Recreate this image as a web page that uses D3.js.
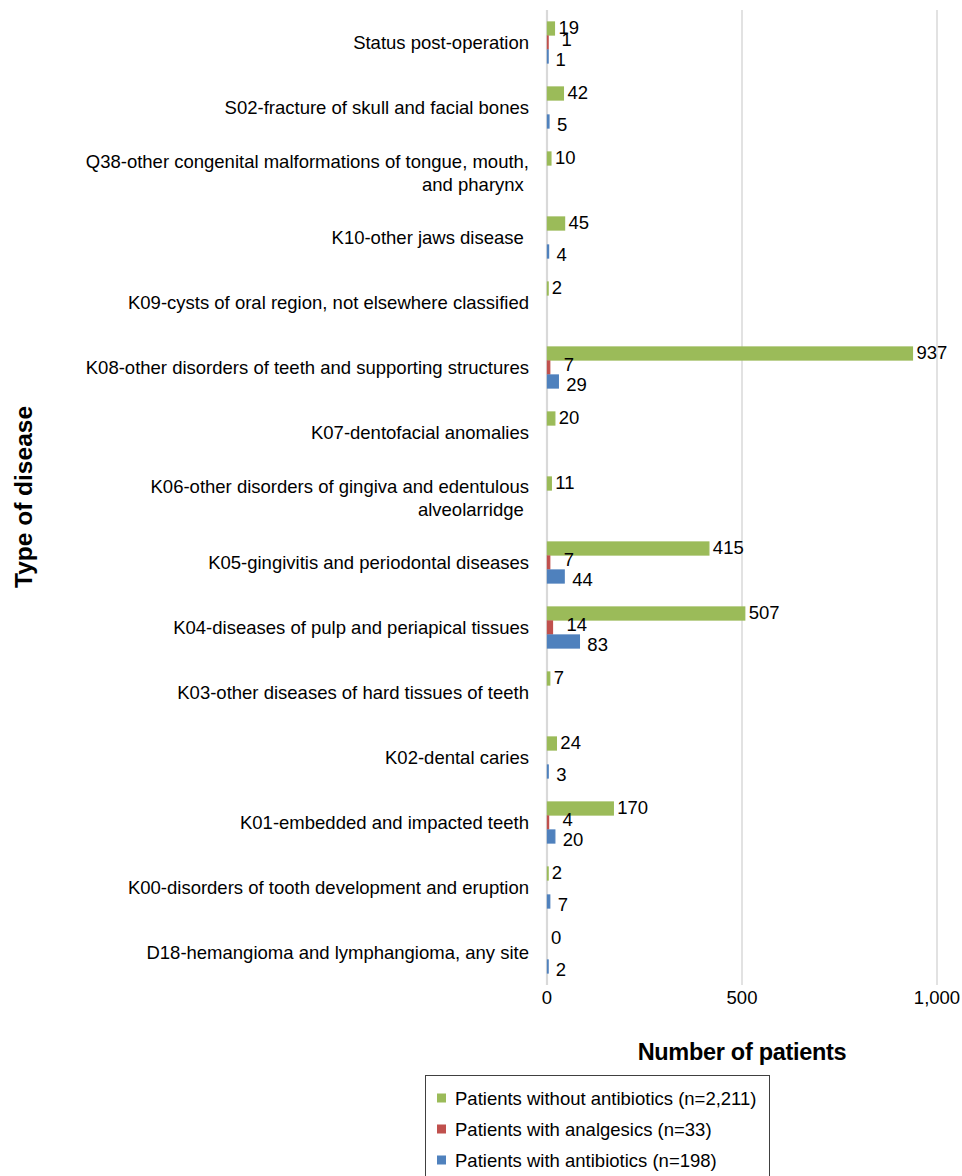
<!DOCTYPE html>
<html>
<head>
<meta charset="utf-8">
<script src="https://cdn.jsdelivr.net/npm/d3@7"></script>
<style>
  html, body { margin: 0; padding: 0; background: #fff; }
  svg { display: block; font-family: "Liberation Sans", Arial, sans-serif; }
</style>
</head>
<body>
<svg id="chart" width="962" height="1176"></svg>
<script>
const categories = [
  "Status post-operation",
  "S02-fracture of skull and facial bones",
  "Q38-other congenital malformations of tongue, mouth,\nand pharynx ",
  "K10-other jaws disease ",
  "K09-cysts of oral region, not elsewhere classified",
  "K08-other disorders of teeth and supporting structures",
  "K07-dentofacial anomalies",
  "K06-other disorders of gingiva and edentulous\nalveolarridge ",
  "K05-gingivitis and periodontal diseases",
  "K04-diseases of pulp and periapical tissues",
  "K03-other diseases of hard tissues of teeth",
  "K02-dental caries",
  "K01-embedded and impacted teeth",
  "K00-disorders of tooth development and eruption",
  "D18-hemangioma and lymphangioma, any site"
];
const withoutAntibiotics = [19, 42, 10, 45, 2, 937, 20, 11, 415, 507, 7, 24, 170, 2, 0];
const withAnalgesics     = [1, null, null, null, null, 7, null, null, 7, 14, null, null, 4, null, null];
const withAntibiotics    = [1, 5, null, 4, null, 29, null, null, 44, 83, null, 3, 20, 7, 2];
const seriesNames = ["Patients without antibiotics (n=2,211)", "Patients with analgesics (n=33)", "Patients with antibiotics (n=198)"];
const seriesColors = ["#9BBB59", "#C0504D", "#4F81BD"];
const xTicks = [0, 500, 1000];
const xTickLabels = ["0", "500", "1,000"];

const seriesValues = [withoutAntibiotics, withAnalgesics, withAntibiotics];
const labelOffsets = [4, 14, 8];
const labelShiftY = [-1, -3, 3];
const FS = 18.5;

const svg = d3.select("#chart");
const x = d3.scaleLinear().domain([0, 1000]).range([547, 937]);
const y = d3.scaleBand().domain(d3.range(categories.length)).range([10, 985]).paddingInner(0.354).paddingOuter(0.177);
const ySub = d3.scaleBand().domain([0, 1, 2]).range([0, y.bandwidth()]);

// gridlines
svg.append("g").selectAll("line").data(xTicks).join("line")
  .attr("x1", d => x(d)).attr("x2", d => x(d))
  .attr("y1", 10).attr("y2", 985)
  .attr("stroke", "#d9d9d9").attr("stroke-width", d => d === 0 ? 2.2 : 1.5);

// tick labels
svg.append("g").selectAll("text").data(xTicks).join("text")
  .attr("x", d => x(d)).attr("y", 997)
  .attr("dy", "0.36em")
  .attr("text-anchor", "middle")
  .attr("font-size", FS).attr("fill", "#000")
  .text((d, i) => xTickLabels[i]);

// bars
seriesValues.forEach((vals, s) => {
  const g = svg.append("g");
  const data = vals.map((v, i) => ({ v, i })).filter(d => d.v !== null);
  g.selectAll("rect").data(data.filter(d => d.v > 0)).join("rect")
    .attr("x", x(0) + 0.5)
    .attr("y", d => y(d.i) + ySub(s) + 0.5)
    .attr("width", d => Math.max(0.6, x(d.v) - x(0) - 0.5))
    .attr("height", ySub.bandwidth() - 1)
    .attr("fill", seriesColors[s])
    .attr("stroke", seriesColors[s]).attr("stroke-width", 1.3);
  g.selectAll("text").data(data).join("text")
    .attr("x", d => x(d.v) + labelOffsets[s])
    .attr("y", d => y(d.i) + ySub(s) + ySub.bandwidth() / 2 + labelShiftY[s])
    .attr("dy", "0.36em")
    .attr("font-size", FS).attr("fill", "#000")
    .text(d => d3.format(",")(d.v));
});

// category labels
const catG = svg.append("g");
categories.forEach((c, i) => {
  const lines = c.split("\n");
  const cy = y(i) + y.bandwidth() / 2;
  const lh = 23;
  const t = catG.append("text")
    .attr("text-anchor", "end")
    .attr("font-size", FS).attr("fill", "#000")
    .attr("xml:space", "preserve");
  lines.forEach((ln, k) => {
    t.append("tspan")
      .attr("x", 529)
      .attr("y", cy + (k - (lines.length - 1) / 2) * lh)
      .attr("dy", "0.36em")
      .text(ln);
  });
});

// axis titles
svg.append("text")
  .attr("x", 742).attr("y", 1052).attr("dy", "0.36em")
  .attr("text-anchor", "middle")
  .attr("font-size", 23.5).attr("font-weight", "bold")
  .attr("letter-spacing", -0.3)
  .text("Number of patients");
svg.append("text")
  .attr("transform", "translate(23,497) rotate(-90)")
  .attr("dy", "0.36em")
  .attr("text-anchor", "middle")
  .attr("font-size", 24.5).attr("font-weight", "bold")
  .text("Type of disease");

// legend
const lg = svg.append("g");
lg.append("rect").attr("x", 425.5).attr("y", 1075.5).attr("width", 344).attr("height", 110)
  .attr("fill", "#fff").attr("stroke", "#404040").attr("stroke-width", 1);
seriesNames.forEach((n, i) => {
  const cy = 1098 + i * 31;
  lg.append("rect").attr("x", 437).attr("y", cy - 4.5).attr("width", 9).attr("height", 9).attr("fill", seriesColors[i]);
  lg.append("text").attr("x", 455).attr("y", cy).attr("dy", "0.36em")
    .attr("font-size", FS).attr("fill", "#000").text(n);
});
</script>
</body>
</html>
